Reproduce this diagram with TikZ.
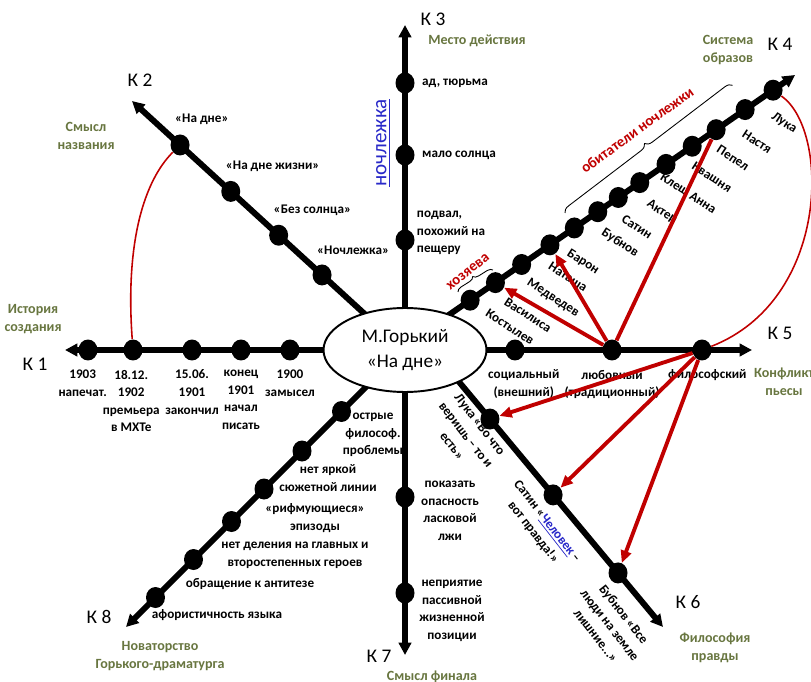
\documentclass[tikz,border=0pt]{standalone}
\usepackage{fontspec}
\setmainfont{Carlito}
\usetikzlibrary{arrows.meta,calc,positioning,shapes.geometric,decorations.pathreplacing}

\definecolor{capgreen}{RGB}{104,118,64}
\definecolor{linkred}{RGB}{192,0,0}
\definecolor{linkblue}{RGB}{40,40,200}

\tikzset{
  kline/.style={line width=3.4pt,-{Triangle[length=7pt,width=7pt]}},
  kdot/.style={ellipse,fill=black,minimum width=0.38cm,minimum height=0.42cm,inner sep=0pt},
  lbl/.style={font=\bfseries\fontsize{7.5}{10}\selectfont,align=center,inner sep=0pt},
  topic/.style={font=\bfseries\fontsize{8}{10.5}\selectfont,align=center,text=capgreen,inner sep=0pt},
  kname/.style={font=\fontsize{11}{13}\selectfont,inner sep=0pt},
  redarr/.style={draw=linkred,line width=2.2pt,-{Triangle[length=7pt,width=6pt]}},
  redline/.style={draw=linkred,line width=2.2pt},
  bow/.style={draw=linkred,line width=0.9pt},
  grp/.style={decorate,decoration={brace,amplitude=#1},line width=0.5pt},
  grp/.default=4pt,
  grplbl/.style={font=\bfseries\fontsize{8.5}{10}\selectfont,text=linkred,inner sep=0pt},
}

\begin{document}
\begin{tikzpicture}[x=0.02cm,y=-0.02cm]
\useasboundingbox (0,0) rectangle (811,682);

% axis ends
\coordinate (in1) at (340,350); \coordinate (tip1) at (65,350);
\coordinate (in2) at (380,328); \coordinate (tip2) at (132,101);
\coordinate (in3) at (405,330); \coordinate (tip3) at (405,25);
\coordinate (in4) at (430,328); \coordinate (tip4) at (795,75);
\coordinate (in5) at (470,350); \coordinate (tip5) at (752,350);
\coordinate (in6) at (440,359); \coordinate (tip6) at (663,627);
\coordinate (in7) at (405,370); \coordinate (tip7) at (405,655);
\coordinate (in8) at (380,373); \coordinate (tip8) at (126,627);

\foreach \k in {1,...,8}
  \draw[kline] (in\k) -- (tip\k);

\node[ellipse,draw,fill=white,line width=1.1pt,minimum width=3.26cm,minimum height=1.68cm,
  font=\fontsize{11}{14}\selectfont,align=center] (gorky) at (405,350) {М.Горький\\«На дне»};

% K1 history
\foreach \n/\x in {a/88,b/133,c/192,d/241,e/290}
  \node[kdot] (k1\n) at (\x,350) {};
\foreach \n/\s/\t in {a/-3/{1903\\напечат.}, b/-1/{18.12.\\1902\\премьера\\в МХТе},
  c/0/{15.06.\\1901\\закончил}, d/0/{конец\\1901\\начал\\писать}, e/0/{1900\\замысел}}
  \node[lbl,below=5pt of k1\n,xshift=\s pt] {\t};

% K2 title
\foreach \n/\x/\y/\t in {a/180/145/{«На дне»}, b/232/190/{«На дне жизни»},
  c/277/237/{«Без солнца»}, d/322/275/{«Ночлежка»}} {
  \node[kdot] (k2\n) at ($(in2)!(\x,\y)!(tip2)$) {};
  \node[lbl,above=5pt of k2\n,anchor=south west,xshift=-3pt] {\t};
}

% K3 place
\foreach \n/\y in {a/83,b/155,c/240}
  \node[kdot] (k3\n) at (405,\y) {};
\node[lbl,right=4pt of k3a] {ад, тюрьма};
\node[lbl,right=4pt of k3b] {мало солнца};
\node[lbl,right=1pt of k3c,yshift=4pt,align=left] {подвал,\\похожий на\\пещеру};
\node[rotate=90,inner sep=0pt,text=linkblue,font=\fontsize{12}{14}\selectfont] at (383,143) {\underline{ночлежка}};

% K4 characters
\foreach \n/\x/\y/\lx/\ly/\t in {
  a/773/90/784/123/Лука, b/742/105/757/142/Настя, c/715/128/733/158/Пепел,
  d/690/143/712/177/Квашня, e/663/160/688/194/{Клещ Анна}, f/638/180/662/212/Актер,
  g/618/197/637/227/Сатин, h/598/212/620/243/Бубнов, i/573/226/583/262/Барон,
  j/548/242/568/277/Наташа, k/522/265/553/298/Медведев, l/495/282/528/315/Василиса,
  m/470/300/510/327/Костылев} {
  \node[kdot] (k4\n) at ($(in4)!(\x,\y)!(tip4)$) {};
  \node[lbl,rotate=-33] at (\lx,\ly) {\t};
}
\draw[grp] (565,213) -- (733,85);
\node[grplbl,rotate=36] at (637,130) {обитатели ночлежки};
\draw[grp=3pt] (458,292) -- (493,270);
\node[grplbl,rotate=38] at (468,272) {хозяева};

% K5 conflict
\foreach \n/\x in {a/515,b/612,c/702}
  \node[kdot] (k5\n) at (\x,350) {};
\node[lbl,below=5pt of k5a,xshift=5pt] {социальный\\(внешний)};
\node[lbl,below=5pt of k5b] {любовный\\(традиционный)};
\node[lbl,below=5pt of k5c,xshift=3pt] {философский};

% K6 truth
\foreach \n/\x/\y in {a/490/419,b/553/495,c/618/573}
  \node[kdot] (k6\n) at ($(in6)!(\x,\y)!(tip6)$) {};
\node[lbl,rotate=-52] at (466,435) {Лука «Во что\\веришь – то и\\есть»};
\node[lbl,rotate=-52] at (540,527) {Сатин «\textcolor{linkblue}{\underline{Человек}} –\\вот правда!»};
\node[lbl,rotate=-52] at (610,625) {Бубнов «Все\\люди на земле\\лишние...»};

% K7 finale
\foreach \n/\y in {a/497,b/593}
  \node[kdot] (k7\n) at (405,\y) {};
\node[lbl] at (450,511) {показать\\опасность\\ласковой\\лжи};
\node[lbl] at (452,611) {неприятие\\пассивной\\жизненной\\позиции};

% K8 novelty
\foreach \n/\x/\y in {a/340/410,b/302/451,c/263/488,d/230/520,e/192/558,f/153/595}
  \node[kdot] (k8\n) at ($(in8)!(\x,\y)!(tip8)$) {};
\node[lbl] at (373,435) {острые\\философ.\\проблемы};
\node[lbl] at (328,478) {нет яркой\\сюжетной линии};
\node[lbl] at (315,518) {«рифмующиеся»\\эпизоды};
\node[lbl] at (295,555) {нет деления на главных и\\второстепенных героев};
\node[lbl] at (250,584) {обращение к антитезе};
\node[lbl] at (217,615) {афористичность языка};

% red links
\draw[redarr] (k5b) -- (k4j);
\draw[redarr] (k5b) -- (k4l);
\draw[redline] (k5b) -- (k4c);
\draw[redarr] (k5c) -- (k6a);
\draw[redarr] (k5c) -- (k6b);
\draw[redarr] (k5c) -- (k6c);
\draw[bow] (k1b) .. controls (125,240) and (145,180) .. (k2a);
\draw[bow] (k4a) .. controls (830,130) and (830,300) .. (k5c);

% axis names
\node[kname] at (35,364) {К 1};
\node[kname] at (140,80) {К 2};
\node[kname] at (433,19) {К 3};
\node[kname] at (780,44) {К 4};
\node[kname] at (780,333) {К 5};
\node[kname] at (688,602) {К 6};
\node[kname] at (379,656) {К 7};
\node[kname] at (99,617) {К 8};

\node[topic] at (86,136) {Смысл\\названия};
\node[topic] at (33,319) {История\\создания};
\node[topic] at (477,41) {Место действия};
\node[topic] at (728,50) {Система\\образов};
\node[topic] at (784,382) {Конфликт\\пьесы};
\node[topic] at (715,648) {Философия\\правды};
\node[topic] at (432,677) {Смысл финала};
\node[topic] at (160,656) {Новаторство\\Горького-драматурга};
\end{tikzpicture}
\end{document}
